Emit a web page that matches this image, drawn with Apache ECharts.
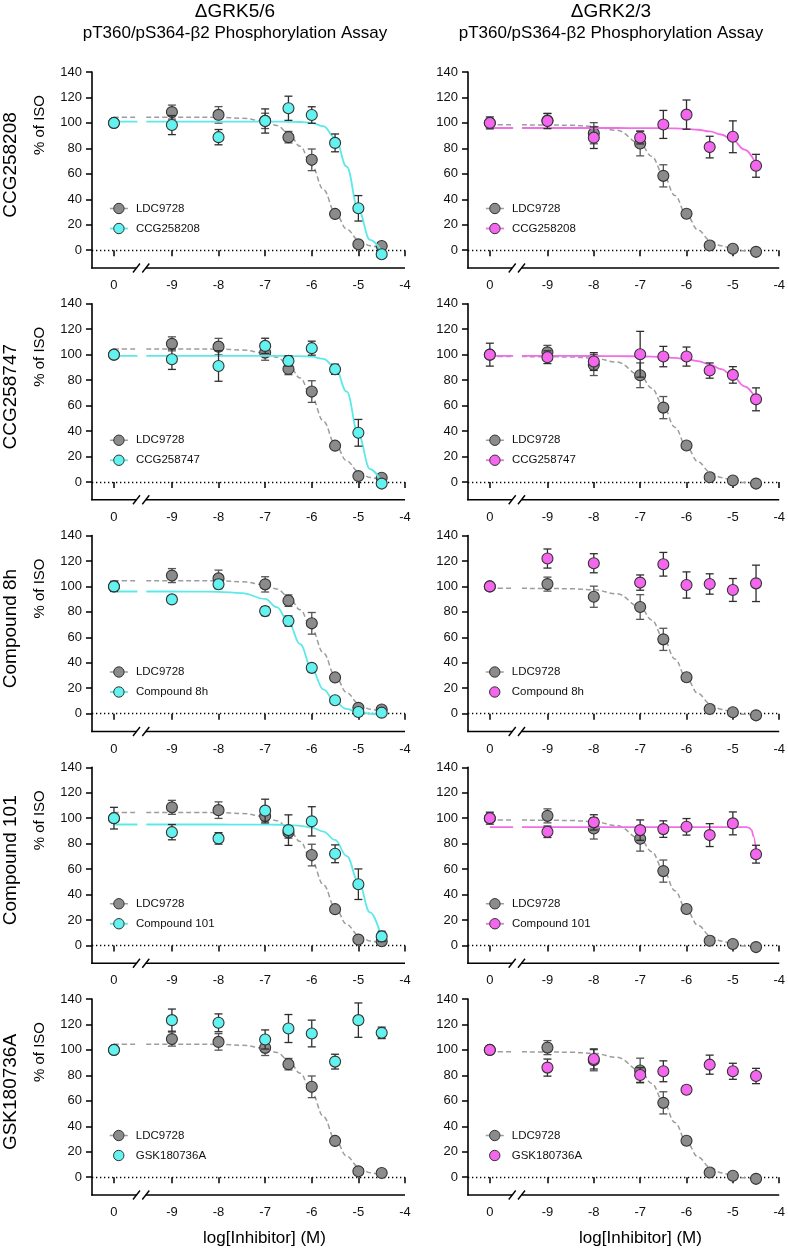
<!DOCTYPE html>
<html><head><meta charset="utf-8">
<script src="https://cdn.jsdelivr.net/npm/echarts@6/dist/echarts.min.js"></script>
<style>html,body{margin:0;padding:0;background:#fff}#c{width:788px;height:1250px}</style>
</head><body><div id="c"></div>
<script>
// ---------------- data ----------------
const DOSES = [0, -9, -8, -7, -6.5, -6, -5.5, -5, -4.5];   // log[Inhibitor] (M); 0 = vehicle
const X_TICKS = [0, -9, -8, -7, -6, -5, -4];
const Y_TICKS = [0, 20, 40, 60, 80, 100, 120, 140];
const CURVE_X = [-9.55, -9, -8.5, -8, -7.5, -7, -6.75, -6.5, -6.25, -6, -5.75, -5.5, -5.25, -5, -4.75, -4.5];
const R4_CURVE_X = [-9.55, -9, -8, -7, -6, -5, -4.75, -4.7, -4.65, -4.6, -4.55, -4.5];

const COL_TITLES = ['ΔGRK5/6', 'ΔGRK2/3'];
const ASSAY = 'pT360/pS364-β2 Phosphorylation Assay';
const ROW_LABELS = ['CCG258208', 'CCG258747', 'Compound 8h', 'Compound 101', 'GSK180736A'];
const Y_TITLE = '% of ISO';
const X_TITLE = 'log[Inhibitor] (M)';
const REF_NAME = 'LDC9728';

// reference inhibitor LDC9728
const LDC_GRK56_MEAN = [100, 108.5, 106.3, 101.6, 88.8, 71.0, 28.5, 4.6, 3.3];
const LDC_GRK56_SEM  = [0, 5.5, 6.5, 6, 4.5, 8.5, 2, 1.5, 1.5];
const LDC_GRK56_FIT  = [104.5, 104.5, 104.46, 104.31, 103.71, 101.25, 98.04, 92.03, 81.7, 66.4, 47.7, 29.9, 16.56, 8.1, 3.42, 0.95];
const LDC_GRK23_MEAN = [100, 101.8, 91.9, 83.8, 58.4, 28.6, 3.7, 1.1, -1.3];
const LDC_GRK23_SEM  = [0, 5.5, 8.3, 9.7, 8.7, 3, 2, 1.5, 1.5];
const LDC_GRK23_FIT  = [98.48, 98.41, 98.18, 97.31, 94.16, 83.93, 73.63, 59.38, 42.95, 27.59, 15.8, 8.04, 3.44, 0.88, -0.49, -1.22];

// ΔGRK5/6 column
const CCG258208_GRK56_MEAN = [100, 98.3, 88.8, 101.5, 111.5, 106.2, 84.3, 32.9, -3.2];
const CCG258208_GRK56_SEM  = [0, 7.5, 6, 9.5, 9.5, 6.5, 7, 10, 1];
const CCG258208_GRK56_FIT  = [101, 101, 101, 101, 101, 101, 100.98, 100.93, 100.73, 100.01, 97.36, 88.5, 65.56, 31.7, 8.09, -1.17];
const CCG258747_GRK56_MEAN = [100, 96.4, 91.1, 106.9, 95.1, 105.1, 88.5, 38.6, -1.3];
const CCG258747_GRK56_SEM  = [0, 8, 12, 6, 4, 5.5, 4, 10.5, 1];
const CCG258747_GRK56_FIT  = [99, 99, 99, 99, 99, 99, 98.99, 98.96, 98.85, 98.39, 96.63, 90.16, 70.91, 37.07, 10.16, -0.73];
const CMPD8H_GRK56_MEAN    = [100, 89.8, 101.7, 80.6, 72.8, 36.0, 10.5, 1.3, 0.8];
const CMPD8H_GRK56_SEM     = [4, 0, 3.5, 3.5, 4, 3, 1, 1, 1];
const CMPD8H_GRK56_FIT     = [96, 95.99, 95.95, 95.76, 94.8, 90.16, 83.7, 71.99, 54.6, 35.1, 19.13, 9.05, 3.71, 1.14, -0.04, -0.58];
const CMPD101_GRK56_MEAN   = [100, 89.0, 84.1, 105.9, 90.6, 97.5, 72.0, 48.1, 7.1];
const CMPD101_GRK56_SEM    = [8.5, 6, 4.5, 9, 12, 11.5, 7, 12, 4];
const CMPD101_GRK56_FIT    = [95, 95, 95, 95, 94.98, 94.92, 94.81, 94.55, 93.95, 92.58, 89.49, 82.89, 70.19, 50.01, 25.94, 5.46];
const GSK_GRK56_MEAN       = [100, 123.4, 121.3, 108.2, 116.8, 112.9, 90.8, 123.4, 113.4];
const GSK_GRK56_SEM        = [0, 8.7, 7, 7.5, 11, 10.5, 5.8, 13.5, 4.5];

// ΔGRK2/3 column
const CCG258208_GRK23_MEAN = [100, 101.5, 88.4, 88.5, 98.8, 106.5, 81.0, 89.1, 66.3];
const CCG258208_GRK23_SEM  = [4.7, 6, 8.5, 5, 11, 11.5, 8.5, 12.5, 9];
const CCG258208_GRK23_FIT  = [96, 96, 96, 96, 95.99, 95.95, 95.9, 95.81, 95.63, 95.28, 94.61, 93.32, 90.89, 86.49, 79.02, 67.61];
const CCG258747_GRK23_MEAN = [100, 98.0, 94.6, 100.3, 98.5, 98.5, 87.5, 84.1, 64.9];
const CCG258747_GRK23_SEM  = [9, 5, 7, 18, 8, 7.5, 6, 6.5, 9];
const CCG258747_GRK23_FIT  = [99, 98.99, 98.98, 98.95, 98.87, 98.65, 98.42, 98.05, 97.44, 96.46, 94.9, 92.41, 88.61, 82.99, 75.13, 64.99];
const CMPD8H_GRK23_MEAN    = [100, 121.9, 118.2, 103.0, 117.4, 101.1, 101.9, 97.2, 102.4];
const CMPD8H_GRK23_SEM     = [0, 7.5, 7.5, 6, 9.3, 10.3, 8, 9, 14.3];
const CMPD101_GRK23_MEAN   = [100, 89.3, 96.7, 90.6, 91.4, 93.2, 86.7, 95.9, 71.7];
const CMPD101_GRK23_SEM    = [4.7, 4.5, 6, 8, 6.5, 6.5, 9, 9, 7];
const CMPD101_GRK23_FIT    = [93, 93, 93, 93, 93, 93, 93, 92.9, 92.4, 90.8, 85.5, 72];
const GSK_GRK23_MEAN       = [100, 86.1, 92.9, 80.3, 83.2, 68.7, 88.4, 83.2, 79.5];
const GSK_GRK23_SEM        = [3, 6.7, 7.9, 5.8, 8.2, 3, 7.5, 6.3, 6];

// ---------------- layout & style ----------------
const FONT = '"Liberation Sans", Arial, Helvetica, sans-serif';
const GRID_LEFT = [92, 468], GRID_WIDTH = [313, 314];
const GRID_TOP0 = 72, ROW_STEP = 231.75, GRID_H = 196;
const XMIN = -10.714, XMAX = -4, YMIN = -14, YMAX = 140;
const ZERO_POS = -10.243;            // where the vehicle (0) dose sits on the broken axis
const BREAK_A = -9.76, BREAK_B = -9.56;
const REF_STYLE = {fill: '#8b8b8b', line: '#9d9d9d', bar: '#555555'};
const COL_STYLE = [{fill: '#62f2ef', line: '#5de9ea', bar: '#2e2e2e'}, {fill: '#f566ee', line: '#f16ee8', bar: '#2e2e2e'}];

const REF = [
  {mean: LDC_GRK56_MEAN, sem: LDC_GRK56_SEM, fitX: CURVE_X, fit: LDC_GRK56_FIT},
  {mean: LDC_GRK23_MEAN, sem: LDC_GRK23_SEM, fitX: CURVE_X, fit: LDC_GRK23_FIT}
];
const PANELS = [
  {row: 0, col: 0, mean: CCG258208_GRK56_MEAN, sem: CCG258208_GRK56_SEM, fitX: CURVE_X, fit: CCG258208_GRK56_FIT},
  {row: 0, col: 1, mean: CCG258208_GRK23_MEAN, sem: CCG258208_GRK23_SEM, fitX: CURVE_X, fit: CCG258208_GRK23_FIT},
  {row: 1, col: 0, mean: CCG258747_GRK56_MEAN, sem: CCG258747_GRK56_SEM, fitX: CURVE_X, fit: CCG258747_GRK56_FIT},
  {row: 1, col: 1, mean: CCG258747_GRK23_MEAN, sem: CCG258747_GRK23_SEM, fitX: CURVE_X, fit: CCG258747_GRK23_FIT},
  {row: 2, col: 0, mean: CMPD8H_GRK56_MEAN, sem: CMPD8H_GRK56_SEM, fitX: CURVE_X, fit: CMPD8H_GRK56_FIT},
  {row: 2, col: 1, mean: CMPD8H_GRK23_MEAN, sem: CMPD8H_GRK23_SEM, fitX: null, fit: null},
  {row: 3, col: 0, mean: CMPD101_GRK56_MEAN, sem: CMPD101_GRK56_SEM, fitX: CURVE_X, fit: CMPD101_GRK56_FIT},
  {row: 3, col: 1, mean: CMPD101_GRK23_MEAN, sem: CMPD101_GRK23_SEM, fitX: R4_CURVE_X, fit: CMPD101_GRK23_FIT},
  {row: 4, col: 0, mean: GSK_GRK56_MEAN, sem: GSK_GRK56_SEM, fitX: null, fit: null},
  {row: 4, col: 1, mean: GSK_GRK23_MEAN, sem: GSK_GRK23_SEM, fitX: null, fit: null}
];

const doseToPos = d => (d === 0 ? ZERO_POS : d);
const XS = DOSES.map(doseToPos);
const TICK_POS = X_TICKS.map(doseToPos);

function curveData(fx, fy) {
  const d = [[ZERO_POS, fy[0]], [BREAK_A + 0.02, fy[0]], ['-', '-']];
  fx.forEach((x, i) => d.push([x, fy[i]]));
  return d;
}
function curveSeries(gi, name, fx, fy, st, dashed, z, extra) {
  return Object.assign({
    type: 'line', name, xAxisIndex: gi, yAxisIndex: gi, z,
    data: curveData(fx, fy), smooth: 0.4, smoothMonotone: 'x', connectNulls: false,
    symbol: 'circle', showSymbol: false, silent: true,
    itemStyle: {color: st.fill, borderColor: '#333', borderWidth: 1},
    lineStyle: {color: st.line, width: dashed ? 1.5 : 1.8, type: dashed ? [5, 3] : 'solid'},
    emphasis: {disabled: true}
  }, extra || {});
}
function pointSeries(gi, name, ys, st, z) {
  return {
    type: 'line', name, xAxisIndex: gi, yAxisIndex: gi, z,
    data: XS.map((x, i) => [x, ys[i]]),
    symbol: 'circle', symbolSize: 11, showSymbol: true, silent: true,
    lineStyle: {width: 0, opacity: 0},
    itemStyle: {color: st.fill, borderColor: '#333333', borderWidth: 1.1},
    emphasis: {disabled: true}
  };
}
function errSeries(gi, ys, es, color, z) {
  return {
    type: 'custom', xAxisIndex: gi, yAxisIndex: gi, z, silent: true,
    data: XS.map((x, i) => [x, ys[i], es[i]]),
    encode: {x: 0, y: 1},
    renderItem(params, api) {
      const x = api.value(0), y = api.value(1), e = api.value(2);
      if (!e) return null;
      const t = api.coord([x, y + e]), b = api.coord([x, y - e]), w = 4;
      const s = {stroke: color, lineWidth: 1.3};
      return {type: 'group', children: [
        {type: 'line', shape: {x1: t[0], y1: t[1], x2: b[0], y2: b[1]}, style: s},
        {type: 'line', shape: {x1: t[0] - w, y1: t[1], x2: t[0] + w, y2: t[1]}, style: s},
        {type: 'line', shape: {x1: b[0] - w, y1: b[1], x2: b[0] + w, y2: b[1]}, style: s}
      ]};
    }
  };
}
function breakSeries(gi) {
  return {
    type: 'custom', xAxisIndex: gi, yAxisIndex: gi, z: 30, silent: true,
    data: [[XMIN, YMIN]], encode: {x: 0, y: 1},
    renderItem(params, api) {
      const a0 = api.coord([XMIN, YMIN]), a1 = api.coord([BREAK_A, YMIN]);
      const b0 = api.coord([BREAK_B, YMIN]), b1 = api.coord([XMAX, YMIN]);
      const s = {stroke: '#000', lineWidth: 1.6};
      const sl = {stroke: '#000', lineWidth: 1.4};
      return {type: 'group', children: [
        {type: 'line', shape: {x1: a0[0] - 0.8, y1: a0[1], x2: a1[0], y2: a1[1]}, style: s},
        {type: 'line', shape: {x1: b0[0], y1: b0[1], x2: b1[0], y2: b1[1]}, style: s},
        {type: 'line', shape: {x1: a1[0] - 3.5, y1: a1[1] + 4.5, x2: a1[0] + 3.5, y2: a1[1] - 4.5}, style: sl},
        {type: 'line', shape: {x1: b0[0] - 3.5, y1: b0[1] + 4.5, x2: b0[0] + 3.5, y2: b0[1] - 4.5}, style: sl}
      ]};
    }
  };
}

const grids = [], xAxes = [], yAxes = [], legends = [], series = [], graphics = [];
const txt = (x, y, text, size, rot) => ({
  type: 'text', x, y, rotation: rot || 0, silent: true,
  style: {text, font: size + 'px ' + FONT, fill: '#000', align: 'center', verticalAlign: 'middle',
          textAlign: 'center', textVerticalAlign: 'middle'}
});

PANELS.forEach((p, gi) => {
  const left = GRID_LEFT[p.col], top = GRID_TOP0 + p.row * ROW_STEP;
  const st = COL_STYLE[p.col], ref = REF[p.col];
  const cname = ROW_LABELS[p.row], sfx = '|' + gi;
  grids.push({left, top, width: GRID_WIDTH[p.col], height: GRID_H});
  xAxes.push({
    type: 'value', gridIndex: gi, min: XMIN, max: XMAX,
    axisLine: {show: false}, splitLine: {show: false},
    axisTick: {show: true, length: 6, customValues: TICK_POS, lineStyle: {color: '#000', width: 1.5}},
    axisLabel: {customValues: TICK_POS, margin: 11, fontSize: 13, color: '#111', fontFamily: FONT,
                formatter: v => (v < -9.5 ? '0' : String(v))}
  });
  yAxes.push({
    type: 'value', gridIndex: gi, min: YMIN, max: YMAX, splitLine: {show: false},
    axisLine: {show: true, lineStyle: {color: '#000', width: 1.6}},
    axisTick: {show: true, length: 6, customValues: Y_TICKS, lineStyle: {color: '#000', width: 1.5}},
    axisLabel: {customValues: Y_TICKS, margin: 10, fontSize: 13, color: '#111', fontFamily: FONT}
  });
  // reference compound
  series.push(curveSeries(gi, REF_NAME + sfx, ref.fitX, ref.fit, REF_STYLE, true, 10, {
    markLine: {silent: true, z: 1, symbol: ['none', 'none'], label: {show: false}, animation: false,
               lineStyle: {color: '#000', type: [1.3, 2.7], width: 1.3}, emphasis: {disabled: true},
               data: [{yAxis: 0}]}
  }));
  series.push(errSeries(gi, ref.mean, ref.sem, REF_STYLE.bar, 11));
  series.push(pointSeries(gi, REF_NAME + ' pts' + sfx, ref.mean, REF_STYLE, 12));
  // test compound
  const hasFit = !!p.fit;
  if (hasFit) series.push(curveSeries(gi, cname + sfx, p.fitX, p.fit, st, false, 13));
  series.push(errSeries(gi, p.mean, p.sem, st.bar, 14));
  series.push(pointSeries(gi, hasFit ? cname + ' pts' + sfx : cname + sfx, p.mean, st, 15));
  series.push(breakSeries(gi));

  legends.push({
    orient: 'vertical', left: left + 17, top: top + 130.5, padding: 0,
    itemWidth: 18, itemHeight: 13, itemGap: 8, selectedMode: false,
    formatter: n => n.split('|')[0],
    textStyle: {fontSize: 11.5, color: '#111', fontFamily: FONT, padding: [0, 0, 0, 3]},
    data: [
      {name: REF_NAME + sfx, itemStyle: {color: REF_STYLE.fill, borderColor: '#333333', borderWidth: 1},
       lineStyle: {color: REF_STYLE.line, width: 1.5, type: [4, 3]}},
      {name: cname + sfx, itemStyle: {color: st.fill, borderColor: '#333333', borderWidth: 1},
       lineStyle: hasFit ? {color: st.line, width: 1.8, type: 'solid'} : {color: st.line, width: 0, opacity: 0}}
    ]
  });

  if (p.col === 0) {
    graphics.push(txt(10.5, top + 93, ROW_LABELS[p.row], 19, Math.PI / 2));
    graphics.push(txt(40, top + 53, Y_TITLE, 15, Math.PI / 2));
  }
  if (p.row === 4) graphics.push(txt(left + 172.5, 1238, X_TITLE, 17));
});
COL_TITLES.forEach((t, c) => {
  const cx = GRID_LEFT[c] + 143;
  graphics.push(txt(cx, 12, t, 19));
  graphics.push(txt(cx, 33.5, ASSAY, 17));
});

const chart = echarts.init(document.getElementById('c'), null, {renderer: 'canvas'});
chart.setOption({
  animation: false, backgroundColor: '#fff',
  textStyle: {fontFamily: FONT},
  grid: grids, xAxis: xAxes, yAxis: yAxes, legend: legends, series, graphic: graphics
});
</script></body></html>
